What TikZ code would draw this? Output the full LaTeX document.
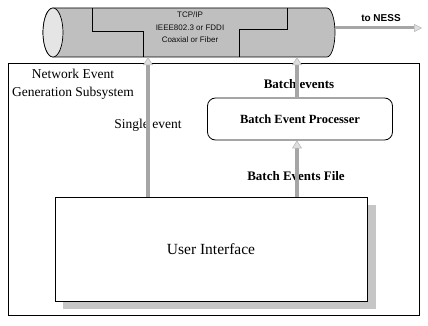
\documentclass[tikz,border=0pt]{standalone}
\usepackage{fontspec}
\setmainfont{Liberation Serif}
\newfontfamily\sansf{Liberation Sans}
\usetikzlibrary{arrows.meta}
\begin{document}
\begin{tikzpicture}[x=1pt,y=-1pt,
  lbl/.style={font=\fontsize{13.5}{18}\selectfont, inner sep=0pt, align=center},
  bigarrow/.style={line width=4.5pt, draw=gray!70, -{Triangle[width=10pt,length=8pt,fill=gray!25,color=gray!55,line width=0.6pt]}},
  thinline/.style={draw=black, line width=0.7pt},
  box/.style={draw=black, line width=0.8pt, fill=white, inner sep=0pt}]
\useasboundingbox[fill=white] (0,0) rectangle (428,326);

% pipe
\fill[gray!50, draw=black, line width=0.7pt] (53,8) -- (327,8)
  arc[start angle=-90,end angle=90,x radius=8,y radius=24.5] -- (53,57)
  arc[start angle=90,end angle=270,x radius=10,y radius=24.5] -- cycle;
\draw[thinline, fill=gray!20] (53,32.5) ellipse[x radius=10, y radius=24.5];
\draw[thinline] (92,8) -- (92,31) -- (143,31) -- (143,57);
\draw[thinline] (287,8) -- (287,29) -- (239,29) -- (239,57);
\node[inner sep=0pt, minimum width=292pt, minimum height=49pt] (pipe) at (189,32.5) {};
\node[font=\sansf\fontsize{8}{12.5}\selectfont, align=center, inner sep=0pt, text=gray!10!black] (pipetext) at (190,27.5)
  {TCP/IP\\IEEE802.3 or FDDI\\Coaxial or Fiber};

% to NESS
\coordinate (ness) at (422,28);
\draw[line width=3pt, draw=gray!70, -{Triangle[width=8pt,length=8pt,fill=gray!25,color=gray!55,line width=0.5pt]}] (pipe.east |- ness) -- (ness);
\node[font=\sansf\bfseries\fontsize{10}{12}\selectfont, inner sep=0pt] (nesslbl) at (381,18) {to NESS};

% frame
\draw[thinline] (8,63) rectangle (419,315);
\node[lbl] (neg) at (73,84) {Network Event\\Generation Subsystem};

% user interface with shadow
\fill[gray!45] (63,205) rectangle (376,309);
\node[box, minimum width=312pt, minimum height=104pt, font=\fontsize{15.5}{18}\selectfont] (ui) at (211,249) {User Interface};

% batch event processer
\node[box, rounded corners=8pt, minimum width=185pt, minimum height=42pt, font=\bfseries\fontsize{12.5}{16}\selectfont] (bep) at (300,119) {Batch Event Processer};

% labels
\node[lbl] (single) at (148,125) {Single event};
\node[lbl, font=\bfseries\fontsize{13}{16}\selectfont] (batchev) at (299,84) {Batch events};
\node[lbl, font=\bfseries\fontsize{13}{16}\selectfont] (batchfile) at (296,176) {Batch Events File};

% arrows
\coordinate (sx) at (148,0);
\coordinate (bx) at (297,0);
\draw[bigarrow] (ui.north -| sx) -- (pipe.south -| sx);
\draw[bigarrow] (bep.north -| bx) -- (pipe.south -| bx);
\draw[bigarrow] (ui.north -| bx) -- (bep.south -| bx);
\end{tikzpicture}
\end{document}
